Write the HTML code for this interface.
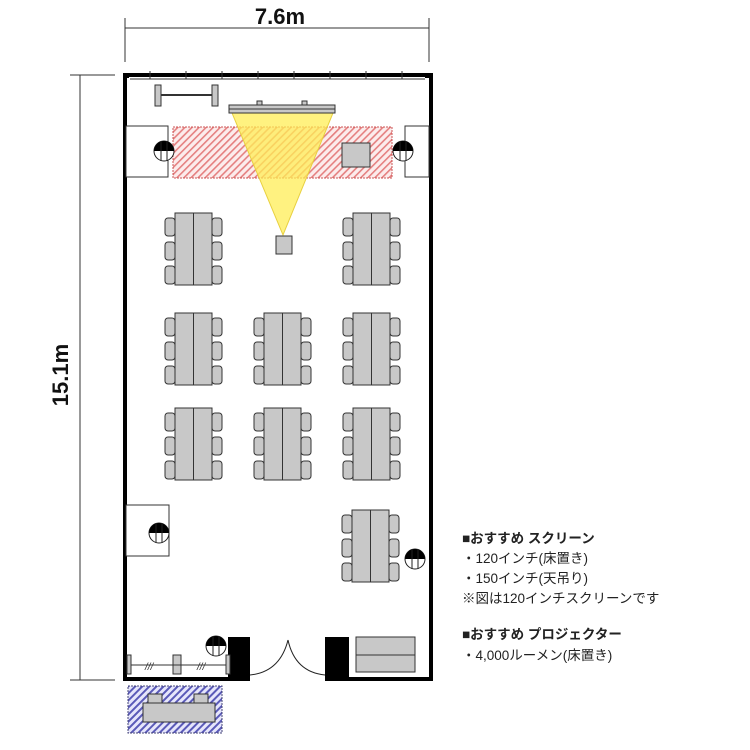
<!DOCTYPE html>
<html><head><meta charset="utf-8"><style>
html,body{margin:0;padding:0;background:#fff}
svg{display:block}
.t{font-family:"Liberation Sans","Noto Sans CJK JP",sans-serif;font-size:13.5px;fill:#222}
</style></head><body>
<svg width="750" height="750" viewBox="0 0 750 750" xmlns="http://www.w3.org/2000/svg">
<defs>
<pattern id="red" width="5" height="5" patternUnits="userSpaceOnUse" patternTransform="rotate(45)">
<rect width="5" height="5" fill="#fcecec"/><rect width="1.6" height="5" fill="#e58080"/></pattern>
<pattern id="blue" width="5" height="5" patternUnits="userSpaceOnUse" patternTransform="rotate(45)">
<rect width="5" height="5" fill="#e6e6fb"/><rect width="2" height="5" fill="#5a5ab8"/></pattern>
<g id="grp">
<g fill="#c8c8c8" stroke="#333" stroke-width="1">
<rect x="-10" y="5" width="10" height="18" rx="3"/><rect x="-10" y="29" width="10" height="18" rx="3"/><rect x="-10" y="53" width="10" height="18" rx="3"/>
<rect x="37" y="5" width="10" height="18" rx="3"/><rect x="37" y="29" width="10" height="18" rx="3"/><rect x="37" y="53" width="10" height="18" rx="3"/>
<rect x="0" y="0" width="37" height="72"/>
</g>
<line x1="18.5" y1="0" x2="18.5" y2="72" stroke="#333"/>
</g>
<g id="pil"><circle r="10" fill="#fff" stroke="#222"/><path d="M-10,0 A10,10 0 0 1 10,0 Z" fill="#000"/><line x1="-3" y1="-10" x2="-3" y2="10" stroke="#222"/><line x1="3" y1="-10" x2="3" y2="10" stroke="#222"/></g>
</defs>
<text x="280" y="24" text-anchor="middle" font-family="Liberation Sans,sans-serif" font-weight="bold" font-size="22" fill="#111">7.6m</text>
<line x1="125" y1="28" x2="429" y2="28" stroke="#333"/>
<line x1="125" y1="18" x2="125" y2="62" stroke="#333"/>
<line x1="429" y1="18" x2="429" y2="62" stroke="#333"/>
<line x1="80" y1="75" x2="80" y2="680" stroke="#333"/>
<line x1="70" y1="75" x2="115" y2="75" stroke="#333"/>
<line x1="70" y1="680" x2="115" y2="680" stroke="#333"/>
<text transform="translate(68,375) rotate(-90)" text-anchor="middle" font-family="Liberation Sans,sans-serif" font-weight="bold" font-size="22" fill="#111">15.1m</text>
<rect x="125" y="75" width="306" height="604" fill="#fff" stroke="#000" stroke-width="4"/>
<rect x="250" y="676" width="75" height="6" fill="#fff"/>
<rect x="123" y="73" width="6" height="5" fill="#000"/><rect x="425" y="73" width="8" height="5" fill="#000"/>
<g stroke="#333" stroke-width="1">
<line x1="130" y1="79" x2="425" y2="79"/>
<line x1="150" y1="71" x2="150" y2="79"/><line x1="186" y1="71" x2="186" y2="79"/><line x1="222" y1="71" x2="222" y2="79"/><line x1="258" y1="71" x2="258" y2="79"/><line x1="294" y1="71" x2="294" y2="79"/><line x1="330" y1="71" x2="330" y2="79"/><line x1="366" y1="71" x2="366" y2="79"/><line x1="402" y1="71" x2="402" y2="79"/>
</g>
<rect x="155" y="85" width="6" height="21" fill="#c8c8c8" stroke="#333"/><rect x="212" y="85" width="6" height="21" fill="#c8c8c8" stroke="#333"/>
<line x1="161" y1="95" x2="212" y2="95" stroke="#333" stroke-width="2"/>
<rect x="126" y="126" width="42" height="51" fill="#fff" stroke="#333"/>
<rect x="405" y="126" width="24" height="51" fill="#fff" stroke="#333"/>
<rect x="173" y="127" width="219" height="51" fill="url(#red)" stroke="#c55" stroke-dasharray="2,1"/>
<polygon points="232,113 333,113 283,235" fill="#ffee55" fill-opacity="0.75" stroke="#e8d040"/>
<rect x="257" y="101" width="5" height="8" fill="#c8c8c8" stroke="#333"/><rect x="302" y="101" width="5" height="8" fill="#c8c8c8" stroke="#333"/>
<rect x="229" y="105" width="106" height="8" fill="#c8c8c8" stroke="#333"/>
<line x1="229" y1="109" x2="335" y2="109" stroke="#333"/>
<rect x="342" y="143" width="28" height="24" fill="#c8c8c8" stroke="#333"/>
<rect x="276" y="236" width="16" height="18" fill="#c8c8c8" stroke="#333"/>
<use href="#pil" x="164" y="151"/><use href="#pil" x="403" y="151"/>
<use href="#grp" x="175" y="213"/><use href="#grp" x="353" y="213"/>
<use href="#grp" x="175" y="313"/><use href="#grp" x="264" y="313"/><use href="#grp" x="353" y="313"/>
<use href="#grp" x="175" y="408"/><use href="#grp" x="264" y="408"/><use href="#grp" x="353" y="408"/>
<use href="#grp" x="352" y="510"/>
<rect x="126" y="505" width="43" height="51" fill="#fff" stroke="#333"/>
<use href="#pil" x="159" y="533"/>
<use href="#pil" x="415" y="559"/>
<use href="#pil" x="216" y="646"/>
<rect x="228" y="637" width="22" height="44" fill="#000"/>
<rect x="325" y="637" width="24" height="44" fill="#000"/>
<path d="M250,675 Q280,672 288,640" fill="none" stroke="#222"/>
<path d="M325,675 Q295,672 288,640" fill="none" stroke="#222"/>
<rect x="356" y="637" width="59" height="35" fill="#c8c8c8" stroke="#333"/>
<line x1="356" y1="655" x2="415" y2="655" stroke="#333"/>
<g fill="#c8c8c8" stroke="#333">
<rect x="127" y="655" width="4" height="19"/><rect x="173" y="655" width="8" height="19"/><rect x="226" y="655" width="4" height="19"/></g>
<line x1="131" y1="665" x2="226" y2="665" stroke="#333"/>
<text x="145" y="670" font-family="Liberation Sans,sans-serif" font-style="italic" font-size="10" fill="#333">///</text>
<text x="197" y="670" font-family="Liberation Sans,sans-serif" font-style="italic" font-size="10" fill="#333">///</text>
<rect x="128" y="686" width="94" height="47" fill="url(#blue)" stroke="#447" stroke-dasharray="2,1"/>
<rect x="148" y="694" width="14" height="10" fill="#c8c8c8" stroke="#333"/><rect x="194" y="694" width="14" height="10" fill="#c8c8c8" stroke="#333"/>
<rect x="143" y="703" width="72" height="19" fill="#c8c8c8" stroke="#333"/>
<text class="t" x="462" y="543" font-weight="bold">■おすすめ スクリーン</text>
<text class="t" x="462" y="563">・120インチ(床置き)</text>
<text class="t" x="462" y="583">・150インチ(天吊り)</text>
<text class="t" x="462" y="603">※図は120インチスクリーンです</text>
<text class="t" x="462" y="639" font-weight="bold">■おすすめ プロジェクター</text>
<text class="t" x="462" y="660">・4,000ルーメン(床置き)</text>
</svg>
</body></html>
